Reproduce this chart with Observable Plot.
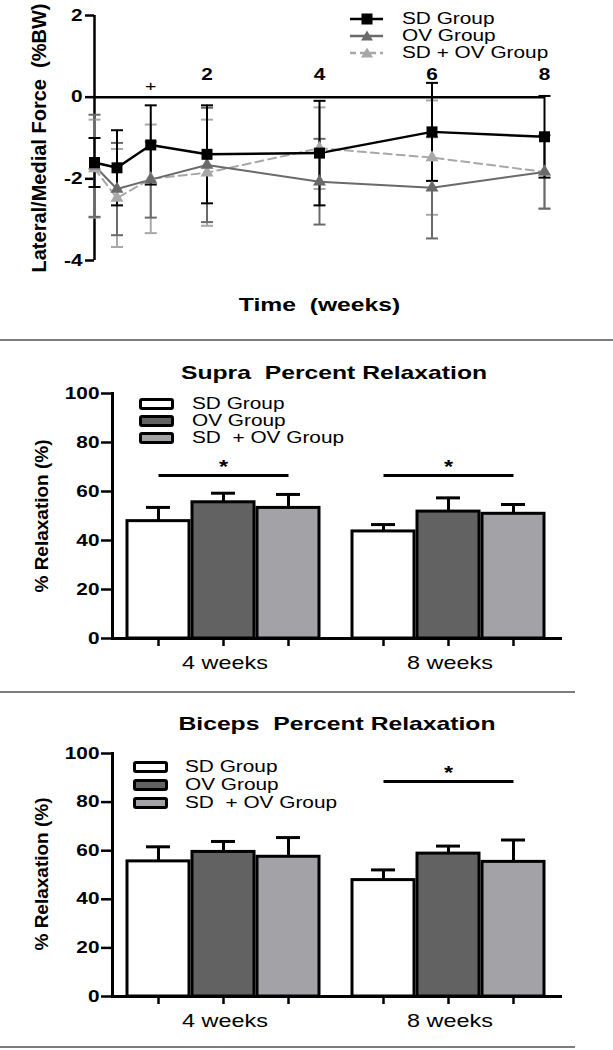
<!DOCTYPE html>
<html><head><meta charset="utf-8">
<script src="https://cdn.jsdelivr.net/npm/d3@7"></script>
<script src="https://cdn.jsdelivr.net/npm/@observablehq/plot@0.6"></script>
<style>
body{margin:0;background:#fff;font-family:"Liberation Sans",Arial,sans-serif;color:#000;}
#root{position:relative;width:613px;height:1050px;overflow:hidden;background:#fff;}
.chart{position:absolute;left:0;}
.sep{position:absolute;left:0;height:2px;background:#7d7d7d;}
.lg{position:absolute;font-size:16px;line-height:16px;white-space:pre;transform:translateY(-50%) scaleX(1.3);transform-origin:0 50%;}
.sw{position:absolute;box-sizing:border-box;border:3px solid #000;border-radius:3px;height:12px;width:35px;}
.ttl{position:absolute;font-size:19px;line-height:19px;font-weight:bold;white-space:pre;transform:translate(-50%,-50%) scaleX(1.3);}
.ylab{position:absolute;font-size:19px;line-height:19px;font-weight:bold;white-space:pre;transform:translate(-50%,-50%) rotate(-90deg);}
</style></head><body><div id="root"></div>
<script>
// ---------- DATA ----------
// Panel A: lateral/medial force (% BW) over time (weeks)
const forceWeeks = [0, 0.4, 1, 2, 4, 6, 8];
const forceSd = [-1.6, -1.73, -1.17, -1.40, -1.37, -0.85, -0.97];
const forceSdErr = [0.6, 0.92, 0.97, 1.2, 1.28, 1.2, 1.0];
const forceOv = [-1.68, -2.25, -2.02, -1.66, -2.07, -2.22, -1.83];
const forceOvErr = [1.25, 1.13, 0.93, 1.4, 1.05, 1.24, 0.9];
const forceSdOv = [-1.75, -2.47, -2.0, -1.85, -1.25, -1.48, -1.83];
const forceSdOvErr = [1.2, 1.2, 1.33, 1.3, 1.0, 1.4, 0.9];
const forceTicks = [-4, -2, 0, 2];
const weekTickLabels = [2, 4, 6, 8];
const forceSig = [{week: 1, mark: "+"}];

// Panels B and C: percent relaxation
const barGroups = ["SD Group", "OV Group", "SD + OV Group"];
const timepoints = ["4 weeks", "8 weeks"];
const relaxTicks = [0, 20, 40, 60, 80, 100];
const supraSd = [47.9, 43.7];
const supraOv = [55.6, 51.8];
const supraSdOv = [53.3, 50.9];
const supraSdErr = [5.6, 2.8];
const supraOvErr = [3.7, 5.6];
const supraSdOvErr = [5.5, 3.8];
const supraSig = [{week: "4 weeks", y: 66.5}, {week: "8 weeks", y: 66.5}];
const bicepsSd = [55.6, 47.9];
const bicepsOv = [59.5, 58.8];
const bicepsSdOv = [57.5, 55.4];
const bicepsSdErr = [6.0, 4.2];
const bicepsOvErr = [4.3, 3.1];
const bicepsSdOvErr = [7.9, 9.0];
const bicepsSig = [{week: "8 weeks", y: 88.5}];

// ---------- STYLE ----------
const FONT = '"Liberation Sans", Arial, sans-serif';
const lineGroups = ["SD Group", "OV Group", "SD + OV Group"];
const lineColors = ["#000000", "#6a6a6a", "#a8a8a8"];
const barFills = ["#ffffff", "#626262", "#a2a2a7"];
const STRETCH = 1.3;

const root = document.getElementById("root");

function stretchTexts(svg) {
  svg.querySelectorAll("text").forEach(t => {
    let tr = t.getAttribute("transform");
    if (tr && tr.includes("rotate")) return;
    if (!tr) {
      const x = +t.getAttribute("x") || 0, y = +t.getAttribute("y") || 0;
      t.setAttribute("x", 0); t.setAttribute("y", 0);
      tr = `translate(${x},${y})`;
    }
    t.setAttribute("transform", tr + ` scale(${STRETCH},1)`);
  });
}
function place(el, top) {
  const d = document.createElement("div");
  d.className = "chart"; d.style.top = top + "px";
  d.appendChild(el); root.appendChild(d);
}

// ---------- PANEL A ----------
const forceSeries = [
  [forceSd, forceSdErr], [forceOv, forceOvErr], [forceSdOv, forceSdOvErr]
];
const forceData = lineGroups.map((g, gi) => forceWeeks.map((w, i) => ({
  group: g, week: w, mean: forceSeries[gi][0][i], err: forceSeries[gi][1][i]
})));
const capSym = {draw(ctx, size) { const r = Math.sqrt(size / Math.PI); ctx.moveTo(-r, 0); ctx.lineTo(r, 0); }};
const order = [2, 1, 0];
const errMarks = order.flatMap(gi => [
  Plot.ruleX(forceData[gi], {x: "week", y1: d => d.mean - d.err, y2: d => d.mean + d.err, stroke: lineColors[gi], strokeWidth: 2}),
  Plot.dot(forceData[gi], {x: "week", y: d => d.mean + d.err, symbol: capSym, r: 6, stroke: lineColors[gi], strokeWidth: 2, fill: "none"}),
  Plot.dot(forceData[gi], {x: "week", y: d => d.mean - d.err, symbol: capSym, r: 6, stroke: lineColors[gi], strokeWidth: 2, fill: "none"})
]);
const lineMarks = order.map(gi => Plot.line(forceData[gi], {
  x: "week", y: "mean", stroke: lineColors[gi], strokeWidth: gi === 0 ? 2.5 : 2,
  strokeDasharray: gi === 2 ? "8,5" : null
}));
const dotMarks = order.map(gi => Plot.dot(forceData[gi], {
  x: "week", y: "mean", symbol: gi === 0 ? "square" : "triangle", r: gi === 0 ? 6.2 : 4.8,
  fill: lineColors[gi], stroke: "none"
}));

const chartA = Plot.plot({
  width: 613, height: 338,
  marginTop: 15, marginBottom: 78, marginLeft: 94, marginRight: 69,
  style: {fontFamily: FONT, fontSize: "16px", background: "transparent", color: "#000"},
  x: {domain: [0, 8], axis: null},
  y: {domain: [-4, 2]},
  marks: [
    Plot.ruleY([0], {strokeWidth: 2.5}),
    Plot.ruleX([0], {strokeWidth: 2.5}),
    Plot.axisY({ticks: forceTicks, tickFormat: d => String(d), tickSize: 9, tickPadding: 3, fontSize: 16, fontWeight: "bold", strokeWidth: 2.5, label: null}),
    Plot.text(weekTickLabels, {x: d => d, y: () => 0, text: d => String(d), dy: -22, fontSize: 16, fontWeight: "bold"}),
    Plot.text(forceSig, {x: "week", y: () => 0, text: "mark", dy: -11, fontSize: 15}),
    ...errMarks, ...lineMarks, ...dotMarks,
    Plot.text(["Lateral/Medial Force\u00a0 (%BW)"], {frameAnchor: "left", textAnchor: "middle", rotate: -90, dx: -55, fontSize: 20, fontWeight: "bold"}),
    Plot.text(["Time\u00a0 (weeks)"], {frameAnchor: "bottom", dy: 50, fontSize: 19, fontWeight: "bold"})
  ]
});
stretchTexts(chartA);
place(chartA, 0);

// legend A
const legA = [19, 36, 53];
lineGroups.forEach((g, gi) => {
  const c = lineColors[gi];
  const marker = gi === 0
    ? `<rect x="13.5" y="3.5" width="11" height="11" fill="${c}"/>`
    : `<path d="M19,3.5 L25,13.5 L13,13.5 Z" fill="${c}"/>`;
  const svg = `<svg width="40" height="18" style="position:absolute;left:348px;top:${legA[gi] - 9}px;overflow:visible">
    <line x1="2" x2="35" y1="9" y2="9" stroke="${c}" stroke-width="2.5" ${gi === 2 ? 'stroke-dasharray="6,4"' : ''}/>${marker}</svg>`;
  root.insertAdjacentHTML("beforeend", svg);
  root.insertAdjacentHTML("beforeend", `<div class="lg" style="left:402px;top:${legA[gi]}px">${g}</div>`);
});

// ---------- PANELS B/C ----------
function barPlot(means, errs, sig, h, mt, mb) {
  const data = [];
  barGroups.forEach((g, gi) => timepoints.forEach((t, ti) =>
    data.push({group: g, week: t, value: means[gi][ti], err: errs[gi][ti]})));
  const svg = Plot.plot({
    width: 613, height: h, marginTop: mt, marginBottom: mb, marginLeft: 111, marginRight: 51,
    style: {fontFamily: FONT, fontSize: "16px", background: "transparent", color: "#000"},
    fx: {domain: timepoints, paddingInner: 0, paddingOuter: 0},
    x: {domain: barGroups, paddingInner: 0.053, paddingOuter: 0.235, align: 0.45},
    y: {domain: [0, 100]},
    color: {domain: barGroups, range: barFills},
    marks: [
      Plot.ruleX(data, {fx: "week", x: "group", y1: "value", y2: d => d.value + d.err, strokeWidth: 3}),
      Plot.tickY(data, {fx: "week", x: "group", y: d => d.value + d.err, strokeWidth: 3, insetLeft: 19, insetRight: 19}),
      Plot.barY(data, {fx: "week", x: "group", y: "value", fill: "group", stroke: "#000", strokeWidth: 3}),
      Plot.ruleY([0], {strokeWidth: 3}),
      Plot.frame({anchor: "left", facetAnchor: "left", strokeWidth: 3}),
      Plot.axisY({ticks: relaxTicks, tickFormat: d => String(d), tickSize: 11, tickPadding: 2, fontSize: 16, fontWeight: "bold", strokeWidth: 2.5, label: null}),
      Plot.axisX({tickSize: 8, tickFormat: () => "", strokeWidth: 2.5, label: null}),
      Plot.axisFx({anchor: "bottom", label: null, tickSize: 0, tickPadding: 18, fontSize: 18}),
      Plot.link(sig, {fx: "week", x1: () => barGroups[0], x2: () => barGroups[2], y1: "y", y2: "y", strokeWidth: 3}),
      Plot.text(sig, {fx: "week", x: () => barGroups[1], y: "y", text: () => "*", dy: -8, fontSize: 18, fontWeight: "bold"})
    ]
  });
  stretchTexts(svg);
  return svg;
}

place(barPlot([supraSd, supraOv, supraSdOv], [supraSdErr, supraOvErr, supraSdOvErr], supraSig, 352, 53, 54), 340);
place(barPlot([bicepsSd, bicepsOv, bicepsSdOv], [bicepsSdErr, bicepsOvErr, bicepsSdOvErr], bicepsSig, 356, 61, 52), 692);

function barLegend(rows, swLeft, txtLeft) {
  barGroups.forEach((g, gi) => {
    root.insertAdjacentHTML("beforeend",
      `<div class="sw" style="left:${swLeft}px;top:${rows[gi] - 6}px;background:${barFills[gi]}"></div>` +
      `<div class="lg" style="left:${txtLeft}px;top:${rows[gi]}px">${g === "SD + OV Group" ? "SD\u00a0 + OV Group" : g}</div>`);
  });
}
barLegend([403.5, 421, 438], 139, 192);
barLegend([767, 785, 803], 133, 185);

root.insertAdjacentHTML("beforeend",
  `<div class="ttl" style="left:334px;top:372px">Supra\u00a0 Percent Relaxation</div>` +
  `<div class="ttl" style="left:337px;top:723px">Biceps\u00a0 Percent Relaxation</div>` +
  `<div class="ylab" style="left:41px;top:516px">% Relaxation (%)</div>` +
  `<div class="ylab" style="left:41px;top:874px">% Relaxation (%)</div>` +
  `<div class="sep" style="top:339px;width:613px"></div>` +
  `<div class="sep" style="top:691px;width:575px"></div>` +
  `<div class="sep" style="top:1046px;width:575px"></div>`);
</script></body></html>
